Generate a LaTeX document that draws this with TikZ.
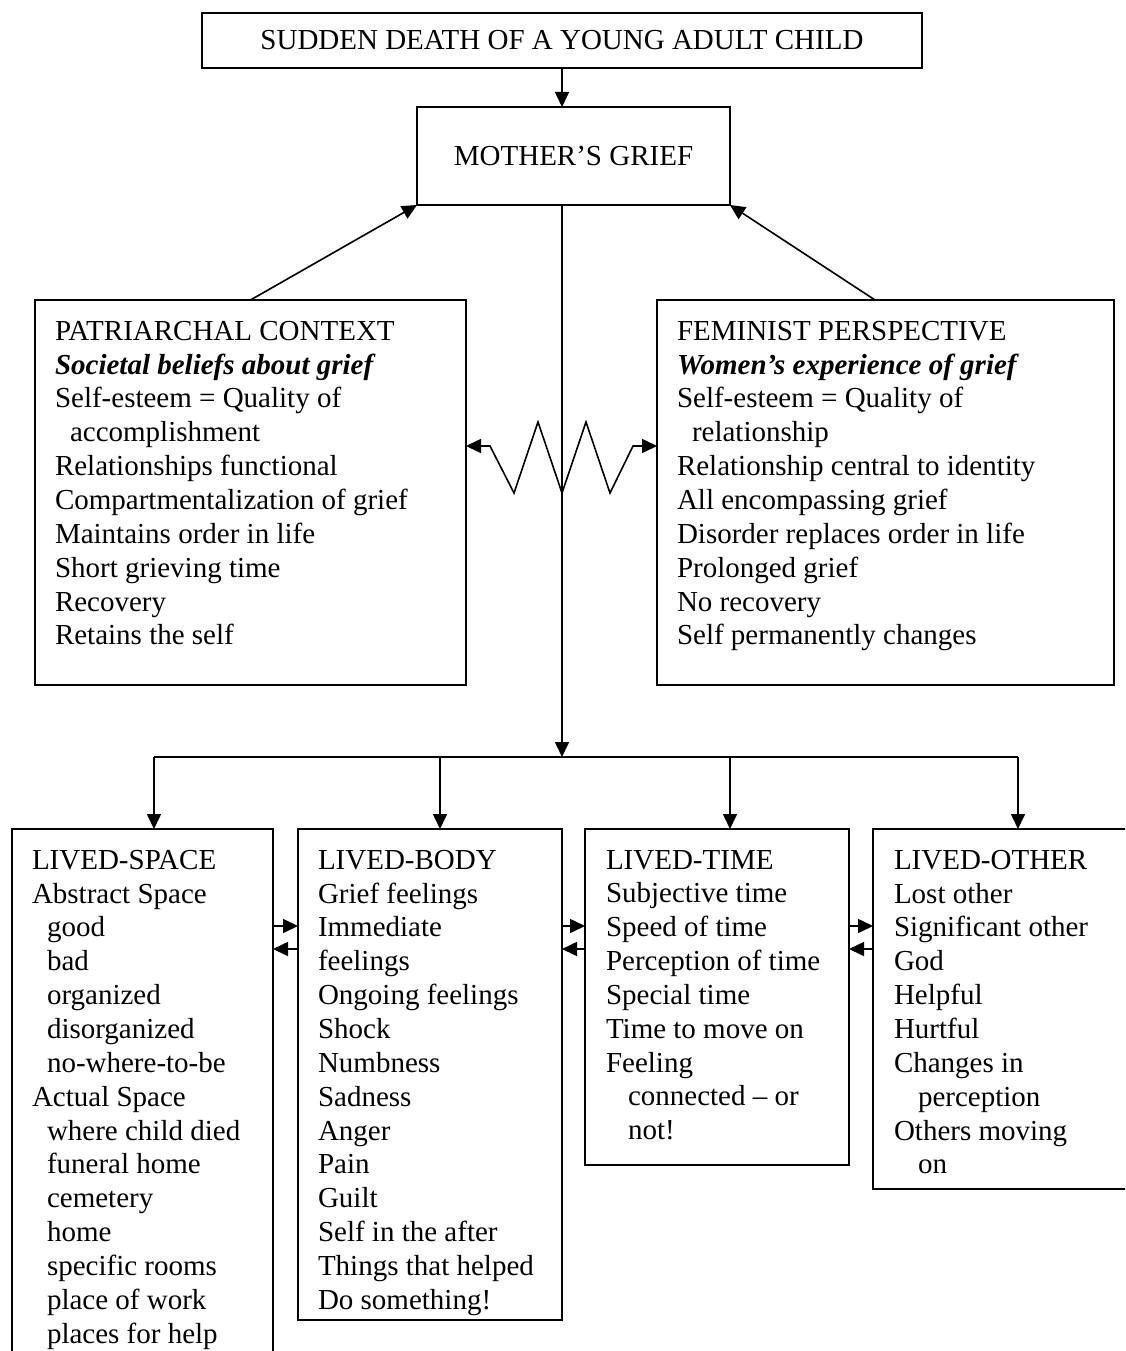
\documentclass[tikz,border=0pt]{standalone}
\usepackage{fontspec}
\setmainfont{Liberation Serif}
\usetikzlibrary{arrows.meta,positioning}
\tikzset{
  box/.style={draw, line width=1.6pt, inner sep=0pt, outer sep=0pt,
    font=\fontsize{29}{33.85}\selectfont},
  txt/.style={inner sep=0pt, outer sep=0pt, align=left,
    font=\fontsize{29}{33.85}\selectfont},
  arr/.style={line width=1.6pt, -{Triangle[length=15pt,width=14pt]}},
  every picture/.style={line cap=butt, line join=miter}
}
\newcommand{\ind}[1]{\hspace*{#1pt}}

\begin{document}
\begin{tikzpicture}[x=1pt,y=-1pt]
  \useasboundingbox (0,0) rectangle (1125,1351);
  \clip (0,0) rectangle (1125,1351);

  % top of the diagram
  \node[box, minimum width=720pt, minimum height=55pt] (death) at (562,40.5)
    {SUDDEN DEATH OF A YOUNG ADULT CHILD};
  \node[box, minimum width=313pt, minimum height=98pt] (mother) at (573.5,156)
    {MOTHER’S GRIEF};

  % the two contexts
  \node[box, minimum width=431pt, minimum height=385pt] (patr) at (250.5,492.5) {};
  \node[box, minimum width=457pt, minimum height=385pt] (fem) at (885.5,492.5) {};

  \node[txt, below right=21pt and 20pt of patr.north west] (patrtxt)
    {PATRIARCHAL CONTEXT\\
     \textbf{\textit{Societal beliefs about grief}}\\
     Self-esteem = Quality of\\
     \ind{15}accomplishment\\
     Relationships functional\\
     Compartmentalization of grief\\
     Maintains order in life\\
     Short grieving time\\
     Recovery\\
     Retains the self};
  \node[txt, below right=21pt and 20pt of fem.north west] (femtxt)
    {FEMINIST PERSPECTIVE\\
     \textbf{\textit{Women’s experience of grief}}\\
     Self-esteem = Quality of\\
     \ind{15}relationship\\
     Relationship central to identity\\
     All encompassing grief\\
     Disorder replaces order in life\\
     Prolonged grief\\
     No recovery\\
     Self permanently changes};

  % the four lived worlds
  \node[box, minimum width=261pt, minimum height=571pt] (space) at (142.5,1114.5) {};
  \node[box, minimum width=264pt, minimum height=491pt] (body) at (430,1074.5) {};
  \node[box, minimum width=264pt, minimum height=336pt] (time) at (717,997) {};
  \node[box, minimum width=255pt, minimum height=360pt] (other) at (1000.5,1009) {};

  \node[txt, below right=21pt and 20pt of space.north west] (spacetxt)
    {LIVED-SPACE\\
     Abstract Space\\
     \ind{15}good\\
     \ind{15}bad\\
     \ind{15}organized\\
     \ind{15}disorganized\\
     \ind{15}no-where-to-be\\
     Actual Space\\
     \ind{15}where child died\\
     \ind{15}funeral home\\
     \ind{15}cemetery\\
     \ind{15}home\\
     \ind{15}specific rooms\\
     \ind{15}place of work\\
     \ind{15}places for help};
  \node[txt, below right=21pt and 20pt of body.north west] (bodytxt)
    {LIVED-BODY\\
     Grief feelings\\
     Immediate\\
     feelings\\
     Ongoing feelings\\
     Shock\\
     Numbness\\
     Sadness\\
     Anger\\
     Pain\\
     Guilt\\
     Self in the after\\
     Things that helped\\
     Do something!};
  \node[txt, below right=21pt and 21pt of time.north west] (timetxt)
    {LIVED-TIME\\
     Subjective time\\
     Speed of time\\
     Perception of time\\
     Special time\\
     Time to move on\\
     Feeling\\
     \ind{22}connected -- or\\
     \ind{22}not!};
  \node[txt, below right=21pt and 21pt of other.north west] (othertxt)
    {LIVED-OTHER\\
     Lost other\\
     Significant other\\
     God\\
     Helpful\\
     Hurtful\\
     Changes in\\
     \ind{24}perception\\
     Others moving\\
     \ind{24}on};

  % connectors
  \coordinate (hub) at (562,757);
  \coordinate (b1) at (154,757);
  \coordinate (b2) at (440,757);
  \coordinate (b3) at (730,757);
  \coordinate (b4) at (1018,757);
  \coordinate (zz) at (0,446);

  \draw[arr] (death.south) -- (death.south |- mother.north);
  \draw[arr] (patr.north) -- (mother.south west);
  \draw[arr] (fem.north -| 875,0) -- (mother.south east);
  \draw[arr] (death.south |- mother.south) -- (hub);
  \draw[line width=1.6pt] (b1) -- (b4);
  \foreach \b/\n in {b1/space, b2/body, b3/time, b4/other}
    \draw[arr] (\b) -- (\b |- \n.north);

  \draw[line width=1.6pt, {Triangle[length=15pt,width=14pt]}-{Triangle[length=15pt,width=14pt]}]
    (patr.east |- zz) -- ++(24,0) -- ++(24,47) -- ++(24,-71) -- ++(24,71)
    -- ++(24,-71) -- ++(24,71) -- ++(23,-47) -- (fem.west |- zz);

  \foreach \l/\r in {space/body, body/time, time/other} {
    \draw[arr] (\l.east |- 0,926) -- (\r.west |- 0,926);
    \draw[arr] (\r.west |- 0,949) -- (\l.east |- 0,949);
  }
\end{tikzpicture}
\end{document}
